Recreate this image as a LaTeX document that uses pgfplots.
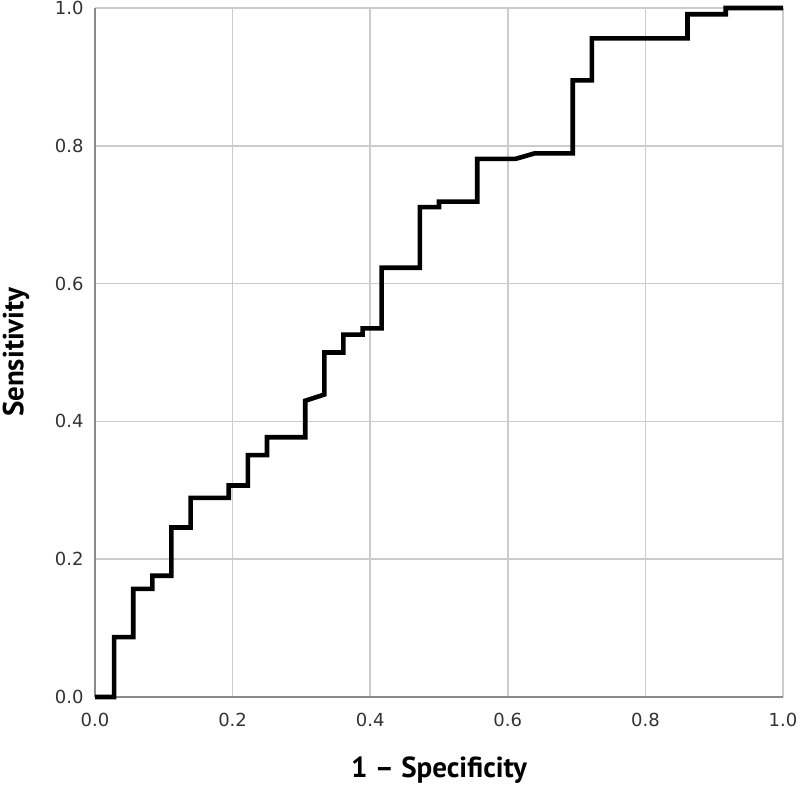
\documentclass[border=0pt]{standalone}
\usepackage{fontspec}
\setmainfont{DejaVu Sans}
\newfontfamily\titlefont{PT Sans}
\usepackage{pgfplots}
\pgfplotsset{compat=1.18}
\definecolor{gridgray}{HTML}{CCCCCC}
\definecolor{axisgray}{HTML}{8A8A8A}
\definecolor{ticktext}{HTML}{333333}
\begin{document}
\begin{tikzpicture}
\begin{axis}[
  scale only axis,
  width=344pt, height=344.5pt,
  xmin=0, xmax=1, ymin=0, ymax=1,
  axis x line=bottom, axis y line=left,
  axis line style={axisgray, line width=0.9pt, -},
  xtick={0,0.2,...,1.0}, ytick={0,0.2,...,1.0},
  major tick length=0pt,
  grid=major,
  major grid style={gridgray, line width=0.8pt},
  /pgf/number format/assume math mode=true,
  /pgf/number format/fixed, /pgf/number format/fixed zerofill,
  /pgf/number format/precision=1,
  tick label style={font=\fontsize{9}{10}\selectfont, text=ticktext, inner sep=0pt},
  xticklabel style={yshift=-8pt},
  yticklabel style={xshift=-5.5pt},
  xlabel={\titlefont\bfseries\fontsize{14.5}{16}\selectfont 1 – Specificity},
  ylabel={\titlefont\bfseries\fontsize{14.5}{16}\selectfont Sensitivity},
  xlabel style={at={(axis description cs:0.5,-0.106)}, anchor=center, inner sep=0pt},
  ylabel style={at={(axis description cs:-0.115,0.5)}, anchor=center, rotate=0, inner sep=0pt},
  clip=false,
]
\addplot[black, line width=2.3pt, line join=miter] coordinates {
(0,0) (0.0278,0) (0.0278,0.087) (0.0556,0.087) (0.0556,0.157)
(0.0833,0.157) (0.0833,0.176) (0.1111,0.176) (0.1111,0.246)
(0.1389,0.246) (0.1389,0.289) (0.1944,0.289) (0.1944,0.307)
(0.2222,0.307) (0.2222,0.351) (0.25,0.351) (0.25,0.377)
(0.3056,0.377) (0.3056,0.43) (0.3333,0.439) (0.3333,0.500)
(0.3611,0.500) (0.3611,0.526) (0.3889,0.526) (0.3889,0.535)
(0.4167,0.535) (0.4167,0.623) (0.4722,0.623) (0.4722,0.711)
(0.5,0.711) (0.5,0.719) (0.5556,0.719) (0.5556,0.781)
(0.6111,0.781) (0.6389,0.789) (0.6944,0.789) (0.6944,0.895)
(0.7222,0.895) (0.7222,0.956) (0.8611,0.956) (0.8611,0.991)
(0.9167,0.991) (0.9167,1) (1,1)
};
\end{axis}
\path[use as bounding box] (current axis.south west) ++(-47.5pt,-45.5pt) rectangle ([shift={(8.5pt,4pt)}]current axis.north east);
\end{tikzpicture}
\end{document}
